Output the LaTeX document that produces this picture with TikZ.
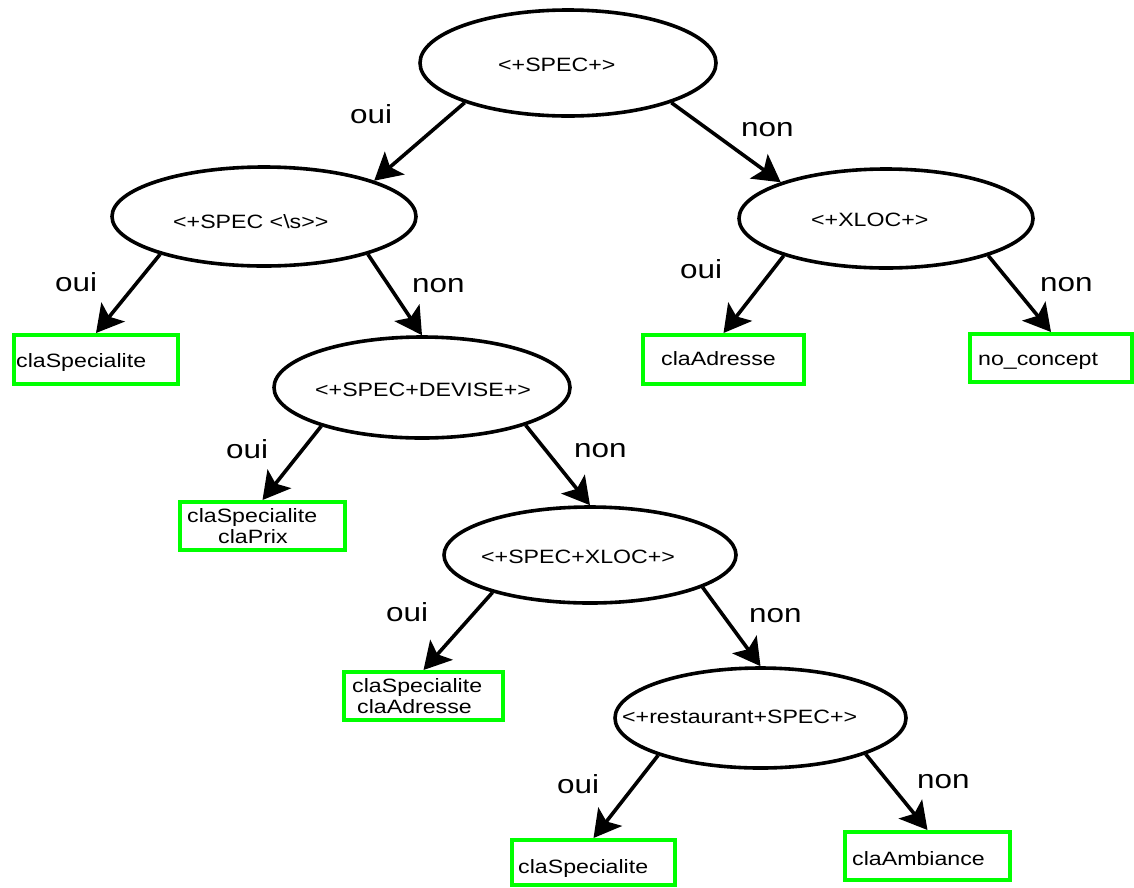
\documentclass[tikz,border=0pt]{standalone}
\usepackage{fontspec}
\setmainfont{Liberation Sans}
\newfontfamily\widesans[FakeStretch=1.2]{Liberation Sans}
\usetikzlibrary{shapes.geometric,arrows.meta}
\definecolor{leafgreen}{RGB}{0,255,0}

\begin{document}
\begin{tikzpicture}[x=1pt,y=-1pt,
  test/.style={ellipse, draw, line width=3.6pt, inner sep=0pt},
  leaf/.style={rectangle, draw=leafgreen, line width=4pt, inner sep=0pt},
  testtext/.style={anchor=base west, inner sep=0pt, font=\widesans\fontsize{19.3}{22}\selectfont},
  answer/.style={anchor=base west, inner sep=0pt, font=\widesans\fontsize{26.2}{30}\selectfont},
  branch/.style={line width=3.6pt, -{Stealth[length=27pt,width=30pt,inset=6pt]}}]

\useasboundingbox (0,0) rectangle (1134,887);

% decision tests
\node[test, minimum width=296pt, minimum height=106pt] (e1) at (568,63) {};
\node[test, minimum width=304pt, minimum height=99pt]  (e2) at (264,216.5) {};
\node[test, minimum width=294pt, minimum height=99pt]  (e3) at (886,218.5) {};
\node[test, minimum width=296pt, minimum height=101pt] (e4) at (422,387.5) {};
\node[test, minimum width=292pt, minimum height=96pt]  (e5) at (590,555) {};
\node[test, minimum width=291pt, minimum height=100pt] (e6) at (760.5,718) {};

\node[testtext] (t1) at (498,71.5) {<+SPEC+>};
\node[testtext] (t2) at (173,228) {<+SPEC <\textbackslash s>>};
\node[testtext] (t3) at (811,226) {<+XLOC+>};
\node[testtext] (t4) at (315,396) {<+SPEC+DEVISE+>};
\node[testtext] (t5) at (481,563) {<+SPEC+XLOC+>};
\node[testtext] (t6) at (622,723.5) {<+restaurant+SPEC+>};

% leaves
\node[leaf, minimum width=164pt, minimum height=49pt] (b1) at (96,359.5) {};
\node[leaf, minimum width=165pt, minimum height=48pt] (b2) at (262.5,526) {};
\node[leaf, minimum width=161pt, minimum height=49pt] (b3) at (723.5,359.5) {};
\node[leaf, minimum width=162pt, minimum height=48pt] (b4) at (1051,358) {};
\node[leaf, minimum width=159pt, minimum height=48pt] (b5) at (423.5,696) {};
\node[leaf, minimum width=163pt, minimum height=45pt] (b6) at (593.5,862.5) {};
\node[leaf, minimum width=165pt, minimum height=48pt] (b7) at (927.5,856) {};

\node[testtext] (l1)  at (16,367)  {claSpecialite};
\node[testtext] (l2a) at (187,522) {claSpecialite};
\node[testtext] (l2b) at (218,543) {claPrix};
\node[testtext] (l3)  at (661,365) {claAdresse};
\node[testtext] (l4)  at (978,365) {no\_concept};
\node[testtext] (l5a) at (352,692) {claSpecialite};
\node[testtext] (l5b) at (357,713) {claAdresse};
\node[testtext] (l6)  at (518,873) {claSpecialite};
\node[testtext] (l7)  at (852,865) {claAmbiance};

% branches
\draw[branch] (e1.201) -- (e2.18);
\draw[branch] (e1.339.5) -- (e3.161);
\draw[branch] (e2.200) -- (b1.north);
\draw[branch] (e2.340) -- (e4.north);
\draw[branch] (e3.200.5) -- (b3.north);
\draw[branch] (e3.340.8) -- (b4.north);
\draw[branch] (e4.201) -- (b2.north);
\draw[branch] (e4.340.5) -- (e5.north);
\draw[branch] (e5.201) -- (b5.north);
\draw[branch] (e5.344) -- (e6.north);
\draw[branch] (e6.200.5) -- (b6.north);
\draw[branch] (e6.341) -- (b7.north);

% branch answers
\node[answer] (a1)  at (350,123) {oui};
\node[answer] (a2)  at (741,136) {non};
\node[answer] (a3)  at (55,291)  {oui};
\node[answer] (a4)  at (412,292) {non};
\node[answer] (a5)  at (680,278) {oui};
\node[answer] (a6)  at (1040,291) {non};
\node[answer] (a7)  at (226,458) {oui};
\node[answer] (a8)  at (574,457) {non};
\node[answer] (a9)  at (386,621) {oui};
\node[answer] (a10) at (749,622) {non};
\node[answer] (a11) at (557,793) {oui};
\node[answer] (a12) at (917,788) {non};
\end{tikzpicture}
\end{document}
